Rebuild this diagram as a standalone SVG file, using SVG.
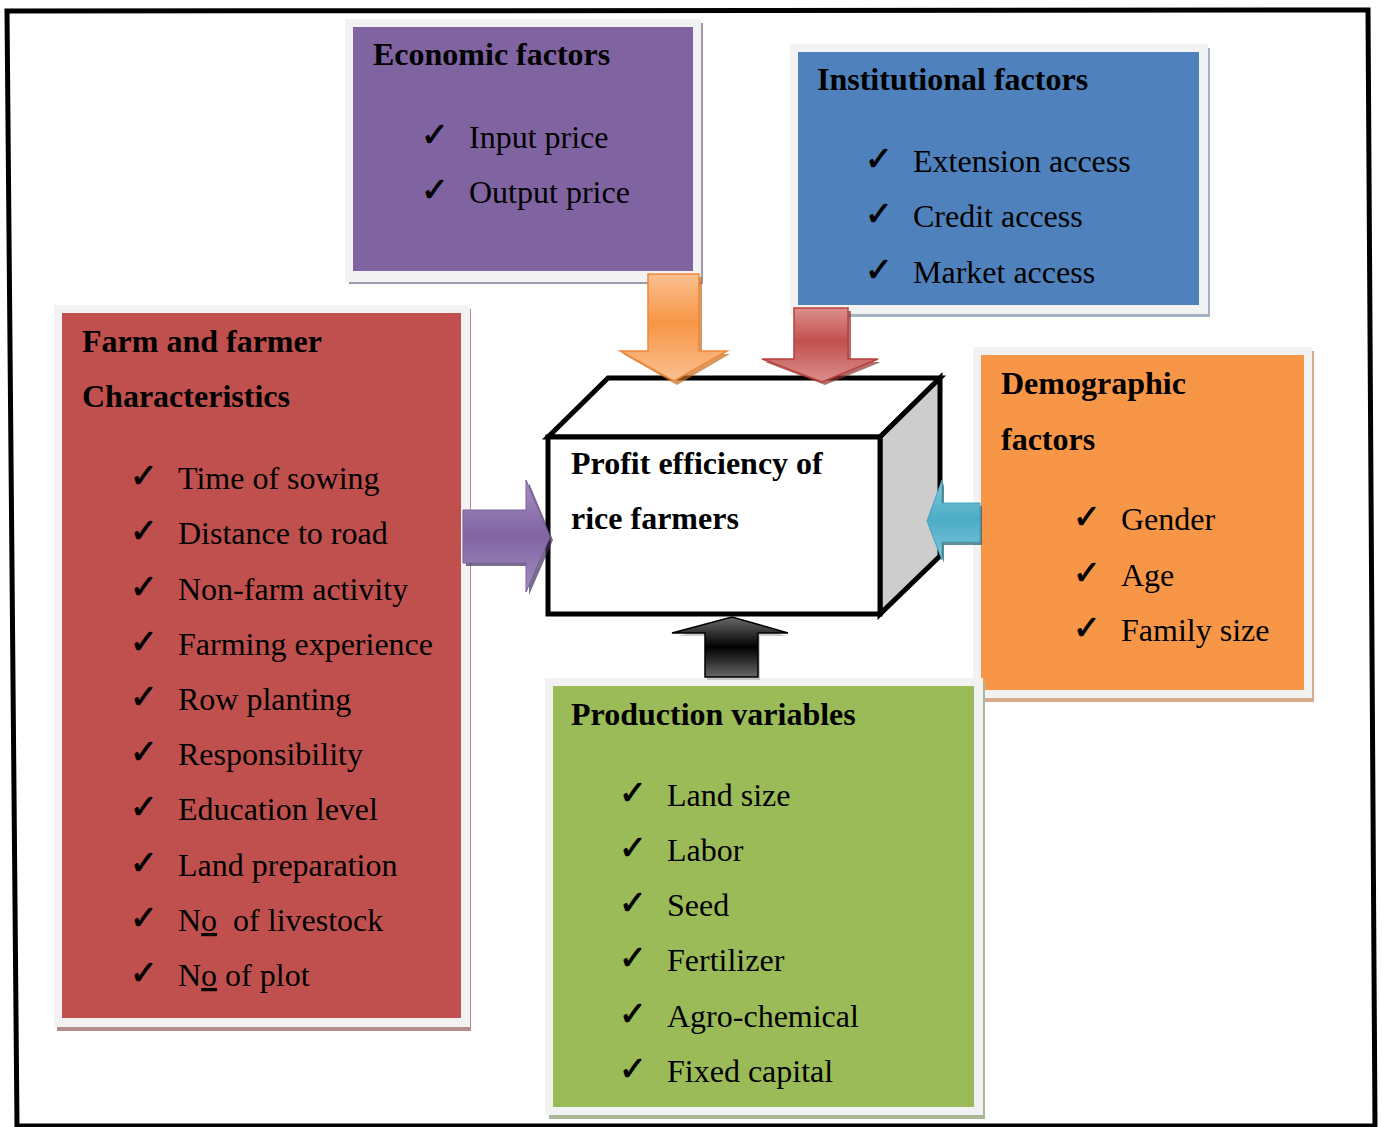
<svg xmlns="http://www.w3.org/2000/svg" width="1382" height="1127" viewBox="0 0 1382 1127">
<defs>
<style>
.t{font-family:"Liberation Serif","Times New Roman",serif;font-size:32px;fill:#000;}
.b{font-weight:bold;}
.ck{font-family:"DejaVu Sans",sans-serif;font-size:33px;fill:#000;stroke:#000;stroke-width:0.9;}
.rim{fill:#f2f2f2;}
.pre{white-space:pre;}
</style>
<linearGradient id="gOr" x1="0" y1="0" x2="0" y2="1">
<stop offset="0" stop-color="#fac090"/><stop offset="0.45" stop-color="#f79646"/><stop offset="1" stop-color="#fac090"/>
</linearGradient>
<linearGradient id="gRd" x1="0" y1="0" x2="0" y2="1">
<stop offset="0" stop-color="#dc8f8d"/><stop offset="0.45" stop-color="#c0504d"/><stop offset="1" stop-color="#dc8f8d"/>
</linearGradient>
<linearGradient id="gPu" x1="0" y1="0" x2="0" y2="1">
<stop offset="0" stop-color="#a48fc0"/><stop offset="0.5" stop-color="#8064a2"/><stop offset="1" stop-color="#a48fc0"/>
</linearGradient>
<linearGradient id="gCy" x1="0" y1="0" x2="0" y2="1">
<stop offset="0" stop-color="#7fc7da"/><stop offset="0.5" stop-color="#4bacc6"/><stop offset="1" stop-color="#7fc7da"/>
</linearGradient>
<linearGradient id="gBk" x1="0" y1="0" x2="0" y2="1">
<stop offset="0" stop-color="#6a6a6a"/><stop offset="0.5" stop-color="#000"/><stop offset="1" stop-color="#666"/>
</linearGradient>
</defs>
<rect width="1382" height="1127" fill="#fff"/>
<polygon points="7,11 1368,10 1375,1126 17,1126" fill="none" stroke="#000" stroke-width="5"/>

<g id="economic">
<rect x="349" y="23" width="354" height="261" fill="#a198ad"/>
<rect class="rim" x="345" y="19" width="356" height="263"/>
<rect x="353" y="27" width="340" height="244" fill="#8064a2"/>
<text class="t b" x="373" y="65">Economic factors</text>
<text class="ck" x="421" y="146">✓</text><text class="t" x="469" y="148">Input price</text>
<text class="ck" x="421" y="201">✓</text><text class="t" x="469" y="203">Output price</text>
</g>

<g id="institutional">
<rect x="794" y="48" width="416" height="269" fill="#a5b2c4"/>
<rect class="rim" x="790" y="44" width="418" height="270"/>
<rect x="798" y="52" width="401" height="253" fill="#4f81bd"/>
<text class="t b" x="817" y="90">Institutional factors</text>
<text class="ck" x="865" y="170">✓</text><text class="t" x="913" y="172">Extension access</text>
<text class="ck" x="865" y="225">✓</text><text class="t" x="913" y="227">Credit access</text>
<text class="ck" x="865" y="281">✓</text><text class="t" x="913" y="283">Market access</text>
</g>

<g id="farm">
<rect x="57" y="309" width="414" height="722" fill="#b58c8b"/>
<rect class="rim" x="54" y="305" width="416" height="722"/>
<rect x="62" y="313" width="399" height="705" fill="#c0504d"/>
<text class="t b" x="82" y="352">Farm and farmer</text>
<text class="t b" x="82" y="407">Characteristics</text>
<text class="ck" x="130" y="487">✓</text><text class="t" x="178" y="489">Time of sowing</text>
<text class="ck" x="130" y="542">✓</text><text class="t" x="178" y="544">Distance to road</text>
<text class="ck" x="130" y="598">✓</text><text class="t" x="178" y="600">Non-farm activity</text>
<text class="ck" x="130" y="653">✓</text><text class="t" x="178" y="655">Farming experience</text>
<text class="ck" x="130" y="708">✓</text><text class="t" x="178" y="710">Row planting</text>
<text class="ck" x="130" y="763">✓</text><text class="t" x="178" y="765">Responsibility</text>
<text class="ck" x="130" y="818">✓</text><text class="t" x="178" y="820">Education level</text>
<text class="ck" x="130" y="874">✓</text><text class="t" x="178" y="876">Land preparation</text>
<text class="ck" x="130" y="929">✓</text><text class="t pre" x="178" y="931">N<tspan text-decoration="underline">o</tspan>  of livestock</text>
<text class="ck" x="130" y="984">✓</text><text class="t" x="178" y="986">N<tspan text-decoration="underline">o</tspan> of plot</text>
</g>

<g id="demographic">
<rect x="977" y="351" width="337" height="351" fill="#d8ab8d"/>
<rect class="rim" x="973" y="347" width="339" height="351"/>
<rect x="981" y="355" width="323" height="335" fill="#f79646"/>
<text class="t b" x="1001" y="394">Demographic</text>
<text class="t b" x="1001" y="450">factors</text>
<text class="ck" x="1073" y="528">✓</text><text class="t" x="1121" y="530">Gender</text>
<text class="ck" x="1073" y="584">✓</text><text class="t" x="1121" y="586">Age</text>
<text class="ck" x="1073" y="639">✓</text><text class="t" x="1121" y="641">Family size</text>
</g>

<g id="production">
<rect x="549" y="682" width="436" height="437" fill="#aab898"/>
<rect class="rim" x="545" y="678" width="438" height="437"/>
<rect x="553" y="686" width="421" height="421" fill="#9bbb59"/>
<text class="t b" x="571" y="725">Production variables</text>
<text class="ck" x="619" y="804">✓</text><text class="t" x="667" y="806">Land size</text>
<text class="ck" x="619" y="859">✓</text><text class="t" x="667" y="861">Labor</text>
<text class="ck" x="619" y="914">✓</text><text class="t" x="667" y="916">Seed</text>
<text class="ck" x="619" y="969">✓</text><text class="t" x="667" y="971">Fertilizer</text>
<text class="ck" x="619" y="1025">✓</text><text class="t" x="667" y="1027">Agro-chemical</text>
<text class="ck" x="619" y="1080">✓</text><text class="t" x="667" y="1082">Fixed capital</text>
</g>

<g id="profit">
<polygon points="548,437 608,378 940,378 880,437" fill="#fff" stroke="#000" stroke-width="5" stroke-linejoin="miter"/>
<polygon points="880,437 940,378 940,556 880,614" fill="#cdcdcd" stroke="#000" stroke-width="5"/>
<rect x="548" y="437" width="332" height="177" fill="#fff" stroke="#000" stroke-width="5"/>
<text class="t b" x="571" y="474">Profit efficiency of</text>
<text class="t b" x="571" y="529">rice farmers</text>
</g>

<g id="connectors">
<polygon points="651,277 702,277 702,354 730,354 677,385 623,354 651,354" fill="#c56e1f" opacity="0.7"/>
<polygon points="648,274 699,274 699,351 727,351 674,381 620,351 648,351" fill="url(#gOr)" stroke="#f0883a" stroke-width="1.5"/>
<polygon points="797,311 851,311 851,362 881,362 825,385 765,362 797,362" fill="#8c3533" opacity="0.7"/>
<polygon points="794,308 848,308 848,359 878,359 822,382 762,359 794,359" fill="url(#gRd)" stroke="#b9403d" stroke-width="1.5"/>
<polygon points="466,513 529,513 529,483 553,540 529,595 529,566 466,566" fill="#3f3159" opacity="0.7"/>
<polygon points="463,510 526,510 526,480 550,537 526,592 526,563 463,563" fill="url(#gPu)" stroke="#7a5e9c" stroke-width="1"/>
<polygon points="982,506 944,506 944,483 930,524 944,563 944,545 982,545" fill="#245a6a" opacity="0.7"/>
<polygon points="980,503 942,503 942,480 927,521 942,560 942,542 980,542" fill="url(#gCy)" stroke="#44a3bc" stroke-width="1"/>
<polygon points="705,677 705,633 676,633 732,618 785,633 758,633 758,677" fill="#999" opacity="0.5" transform="translate(2,3)"/>
<polygon points="705,677 705,633 672,633 732,617 788,633 758,633 758,677" fill="url(#gBk)" stroke="#000" stroke-width="1.5"/>
</g>
</svg>
